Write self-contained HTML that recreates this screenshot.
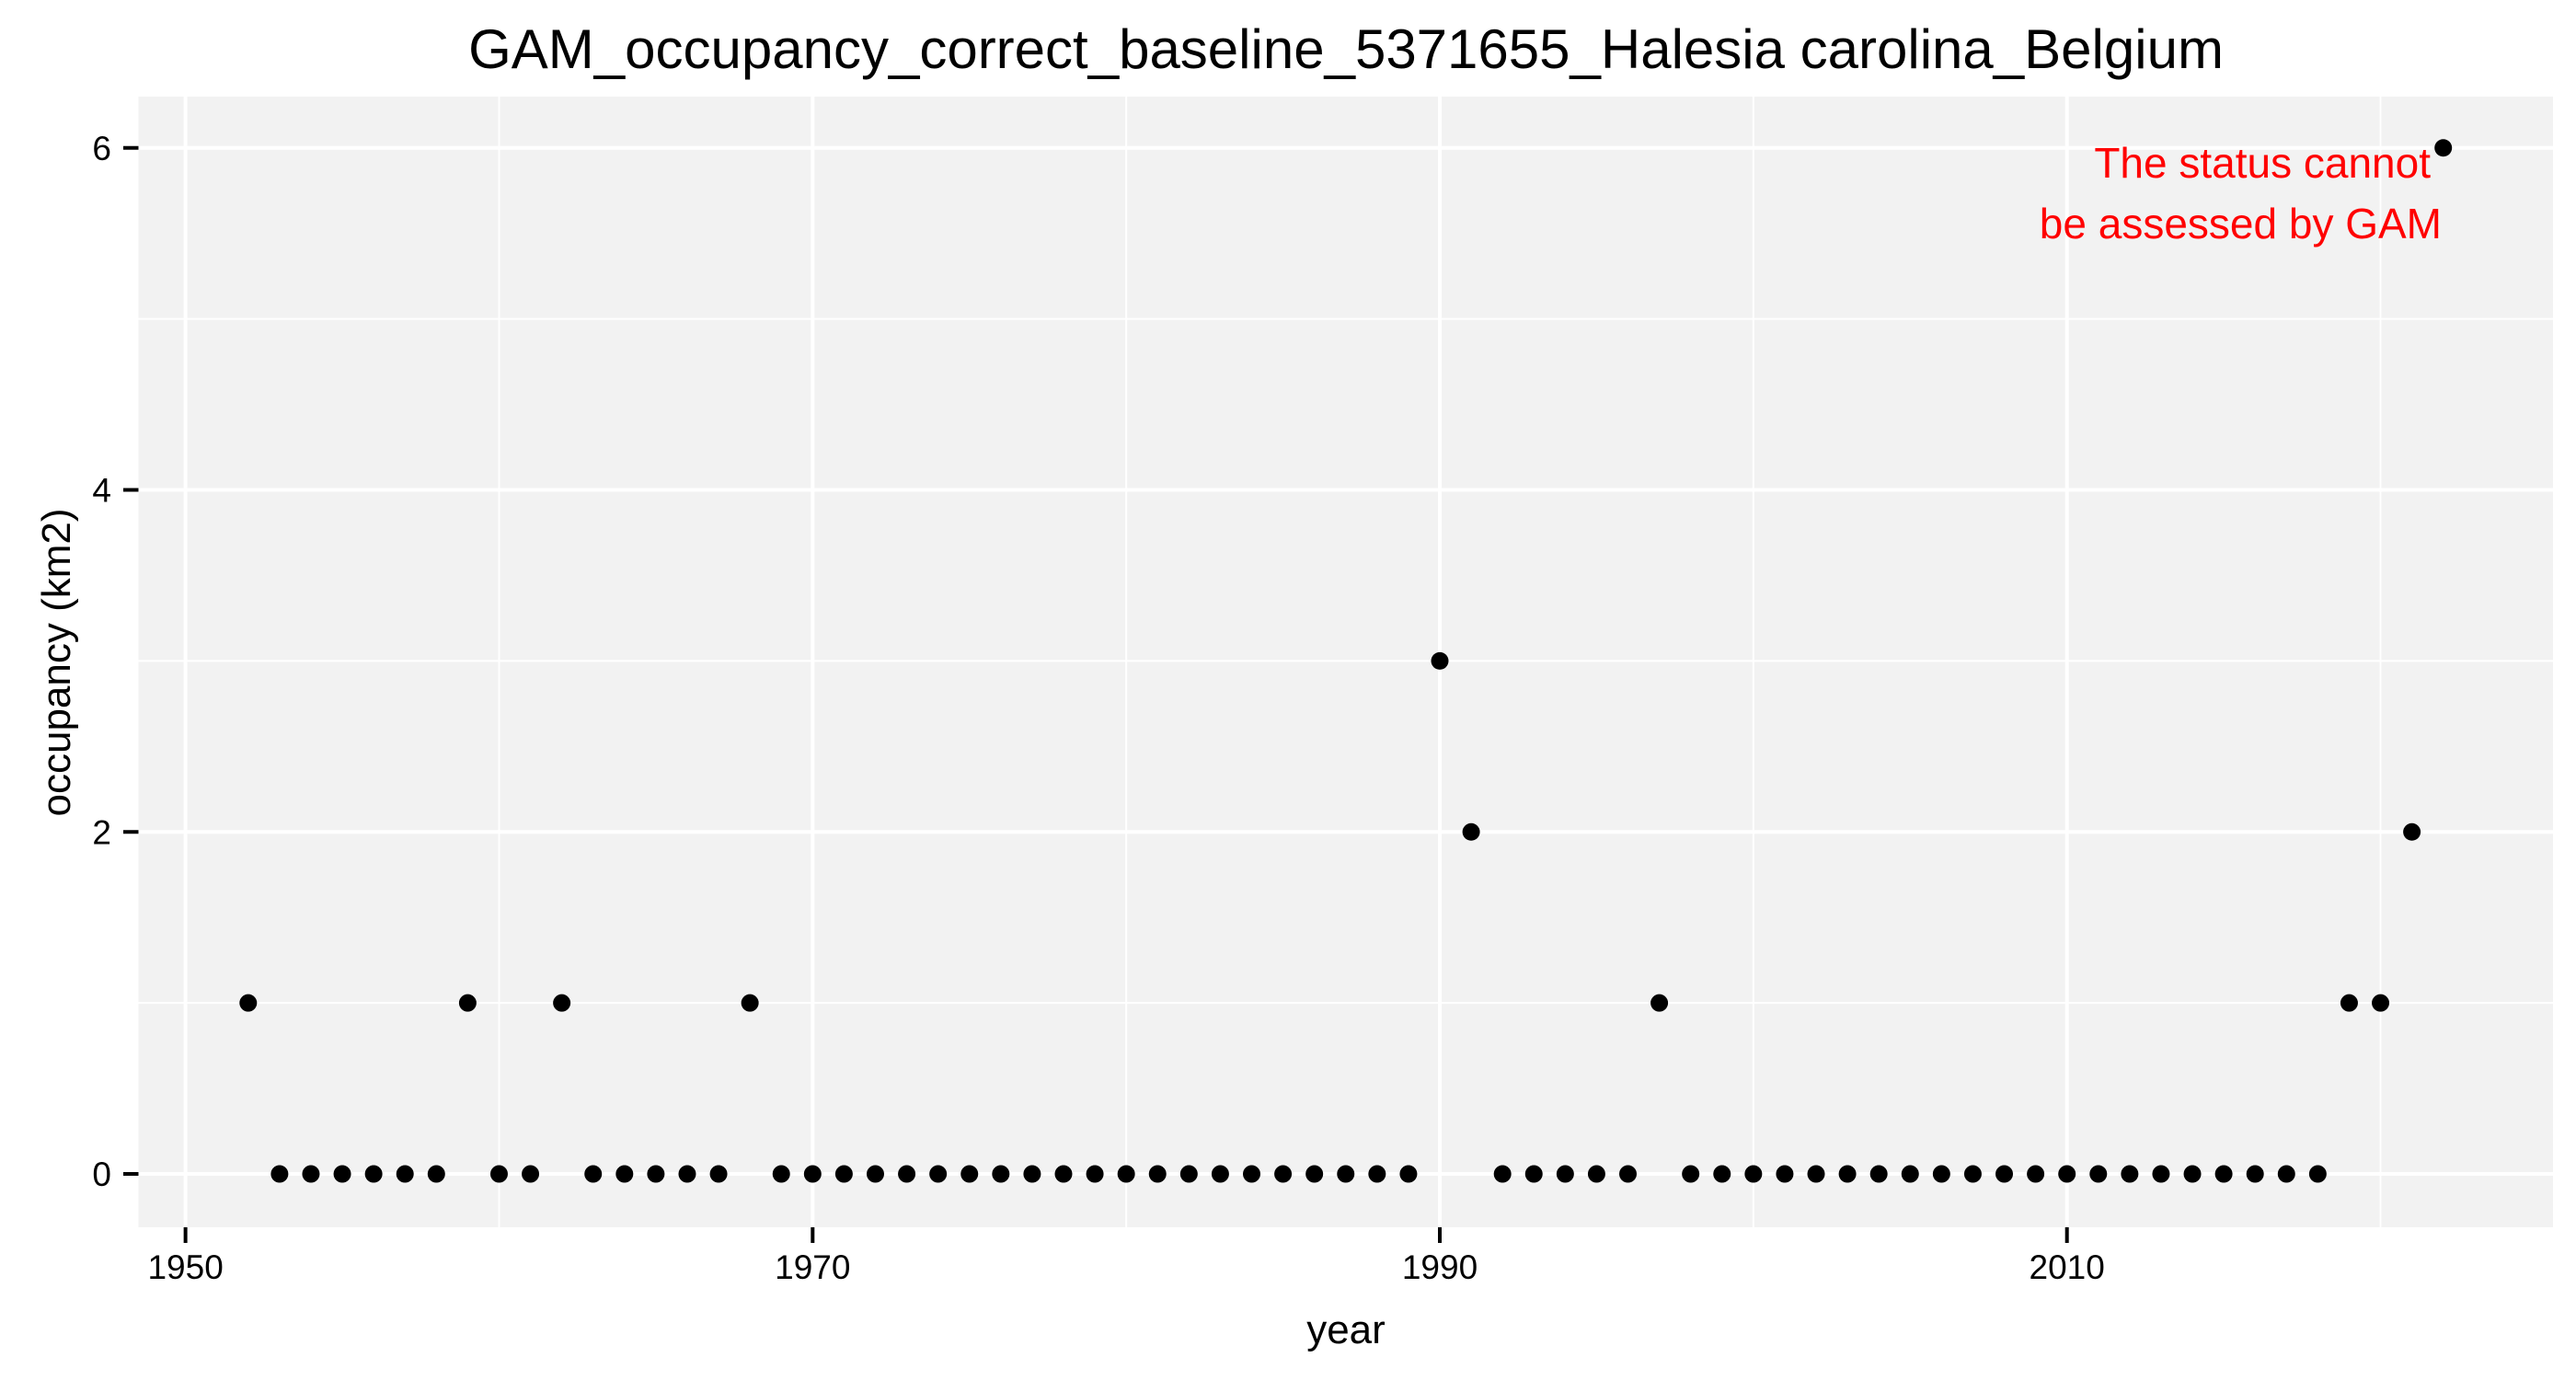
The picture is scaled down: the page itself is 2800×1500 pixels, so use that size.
<!DOCTYPE html>
<html><head><meta charset="utf-8"><style>html,body{margin:0;padding:0;background:#fff}svg{display:block}text{font-family:"Liberation Sans",Arial,sans-serif}</style></head>
<body>
<svg id="chart" width="2800" height="1500" viewBox="0 0 2800 1500" xmlns="http://www.w3.org/2000/svg">
<rect x="0" y="0" width="2800" height="1500" fill="#fff"/>
<text x="1463" y="74" font-size="60" text-anchor="middle" fill="#000">GAM_occupancy_correct_baseline_5371655_Halesia carolina_Belgium</text>
<rect x="150.5" y="105" width="2624.5" height="1229" fill="#f2f2f2"/>
<g id="grid"></g>
<g id="axes"></g>
<g id="points"></g>
<text x="2642" y="193" font-size="46" text-anchor="end" fill="#ff0000">The status cannot</text>
<text x="2654" y="259" font-size="46" text-anchor="end" fill="#ff0000">be assessed by GAM</text>
<text x="1463" y="1460" font-size="44" text-anchor="middle" fill="#000">year</text>
<text x="0" y="0" font-size="44" text-anchor="middle" fill="#000" transform="translate(76,720) rotate(-90)">occupancy (km2)</text>
</svg>
<script>
const years = [1952,1953,1954,1955,1956,1957,1958,1959,1960,1961,1962,1963,1964,1965,1966,1967,1968,1969,1970,1971,1972,1973,1974,1975,1976,1977,1978,1979,1980,1981,1982,1983,1984,1985,1986,1987,1988,1989,1990,1991,1992,1993,1994,1995,1996,1997,1998,1999,2000,2001,2002,2003,2004,2005,2006,2007,2008,2009,2010,2011,2012,2013,2014,2015,2016,2017,2018,2019,2020,2021,2022];
const occupancy = [1,0,0,0,0,0,0,1,0,0,1,0,0,0,0,0,1,0,0,0,0,0,0,0,0,0,0,0,0,0,0,0,0,0,0,0,0,0,3,2,0,0,0,0,0,1,0,0,0,0,0,0,0,0,0,0,0,0,0,0,0,0,0,0,0,0,0,1,1,2,6];
const xTicks = [1950,1970,1990,2010];
const xMinor = [1960,1980,2000,2020];
const yTicks = [0,2,4,6];
const yMinor = [1,3,5];

const NS = "http://www.w3.org/2000/svg";
const X0 = 1948.5, X1 = 2025.5, PL = 150.5, PR = 2775;
const Y0 = -0.3118, Y1 = 6.3, PB = 1334, PT = 105;
function sx(v){return PL + (v - X0) / (X1 - X0) * (PR - PL);}
function sy(v){return PB - (v - Y0) / (Y1 - Y0) * (PB - PT);}
function mk(tag, attrs, parent){const e=document.createElementNS(NS,tag);for(const k in attrs)e.setAttribute(k,attrs[k]);parent.appendChild(e);return e;}
const grid = document.getElementById('grid');
const axes = document.getElementById('axes');
const pts = document.getElementById('points');

yMinor.forEach(v=>{
  const l = mk('line',{x1:PL,x2:PR,y1:sy(v),y2:sy(v),stroke:'#fff','stroke-width':2},grid);
  
  
});
xMinor.forEach(v=>{
  const l = mk('line',{x1:sx(v),x2:sx(v),y1:PT,y2:PB,stroke:'#fff','stroke-width':2},grid);
  
  
});
yTicks.forEach(v=>{
  const l = mk('line',{x1:PL,x2:PR,y1:sy(v),y2:sy(v),stroke:'#fff','stroke-width':4},grid);
  
  
  const t = mk('line',{x1:134,x2:PL,y1:sy(v),y2:sy(v),stroke:'#000','stroke-width':4},axes);
  
  
  const tx = mk('text',{x:121,y:sy(v)+13,'font-size':37,'text-anchor':'end',fill:'#000'},axes);
  tx.textContent = v;
  
  
});
xTicks.forEach(v=>{
  const l = mk('line',{x1:sx(v),x2:sx(v),y1:PT,y2:PB,stroke:'#fff','stroke-width':4},grid);
  
  
  const t = mk('line',{x1:sx(v),x2:sx(v),y1:PB,y2:PB+17,stroke:'#000','stroke-width':4},axes);
  
  
  const tx = mk('text',{x:sx(v),y:1390,'font-size':37,'text-anchor':'middle',fill:'#000'},axes);
  tx.textContent = v;
  
  
});
years.forEach((yr,i)=>{
  const c = mk('circle',{cx:sx(yr),cy:sy(occupancy[i]),r:9.5,fill:'#000'},pts);
  
  
});
</script>
</body></html>
